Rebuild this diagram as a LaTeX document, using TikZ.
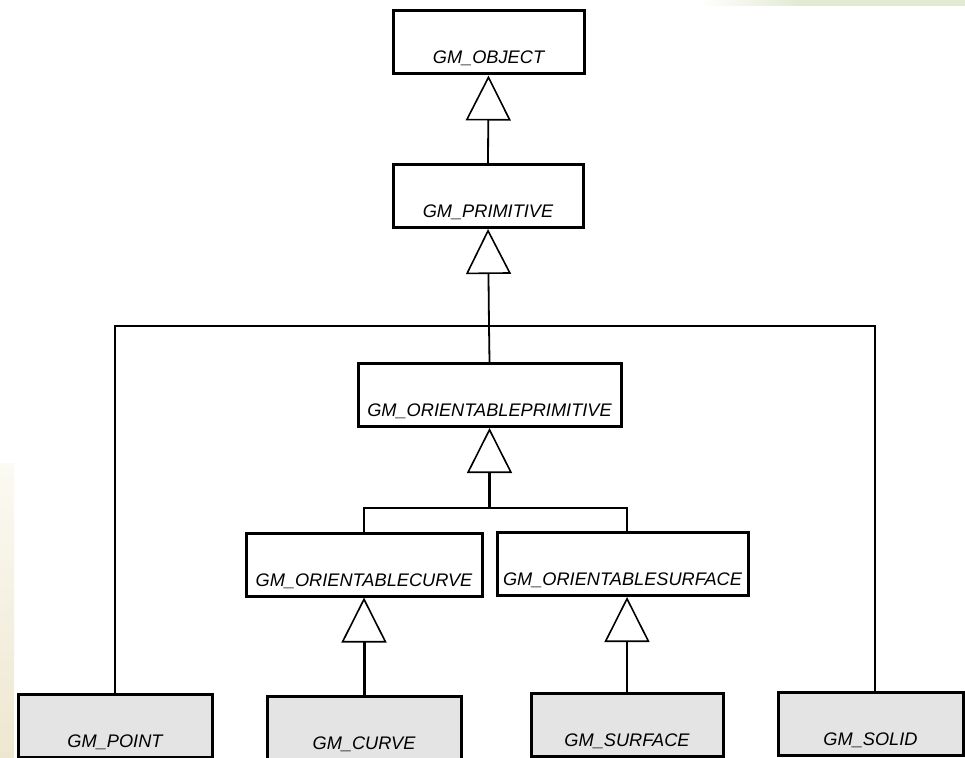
\documentclass[tikz,border=0pt]{standalone}
\usepackage{fontspec}
\setmainfont{Liberation Sans}
\usetikzlibrary{arrows.meta}
\definecolor{leafgray}{HTML}{E4E4E4}
\definecolor{stripgreen}{HTML}{E2EAD2}
\definecolor{stripcream}{HTML}{EEE7D0}
\definecolor{stripcreamlight}{HTML}{FBFAF3}
\begin{document}
\begin{tikzpicture}[x=1pt,y=-1pt,
  cls/.style={draw=black, line width=3pt, fill=white, inner sep=0pt,
    text height=53pt, text depth=10pt, minimum height=63pt,
    font=\fontsize{18.2}{20}\selectfont\itshape},
  leaf/.style={cls, fill=leafgray},
  link/.style={line width=1.8pt},
  gen/.style={link, -{Triangle[open, length=45pt, width=45pt, line width'=1.6pt]}},
]
\useasboundingbox (0,0) rectangle (965,757);
\fill[white] (0,0) rectangle (965,757);

% faint page-background bands
\shade[left color=white, right color=stripgreen] (700,0) rectangle (800,6);
\fill[stripgreen] (800,0) rectangle (965,6);
\shade[top color=stripcreamlight, bottom color=stripcream] (0,463) rectangle (14,757);

% class boxes
\node[cls, minimum width=191pt] (obj)     at (488.5, 42.5) {GM\_OBJECT};
\node[cls, minimum width=190pt] (prim)    at (488, 196)    {GM\_PRIMITIVE};
\node[cls, minimum width=263pt] (oprim)   at (489.5, 395)  {GM\_ORIENTABLEPRIMITIVE};
\node[cls, minimum width=236pt] (ocurve)  at (364, 564.5)  {GM\_ORIENTABLECURVE};
\node[cls, minimum width=251pt] (osurf)   at (622.5, 564)  {GM\_ORIENTABLESURFACE};
\node[leaf, minimum width=194pt] (point)   at (115, 725.5)  {GM\_POINT};
\node[leaf, minimum width=194pt] (curve)   at (364, 727.5)  {GM\_CURVE};
\node[leaf, minimum width=192pt] (surface) at (627, 724.5)  {GM\_SURFACE};
\node[leaf, minimum width=185pt] (solid)   at (870.5, 723.5) {GM\_SOLID};

% junctions of the generalisation trees
\coordinate (j1) at (489, 326);
\coordinate (j2) at (489.5, 508);

% generalisations
\draw[gen] (prim.north) -- (obj.south);
\draw[gen] (j1) -- (prim.south);
\draw[link] (oprim.north) -- (j1);
\draw[link] (point.north) |- (j1) -| ([xshift=4.5pt]solid.north);
\draw[gen, line width=3pt] (j2) -- (oprim.south);
\draw[link] (ocurve.north) |- (j2) -| (osurf.north -| surface.north);
\draw[gen, line width=3pt] (curve.north) -- (ocurve.south);
\draw[gen] (surface.north) -- (surface.north |- osurf.south);
\end{tikzpicture}
\end{document}
